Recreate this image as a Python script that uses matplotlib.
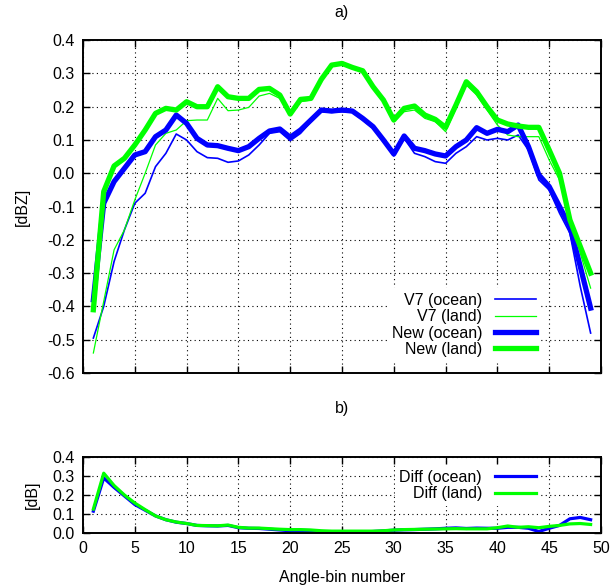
import numpy as np
import matplotlib
matplotlib.use('Agg')
import matplotlib.pyplot as plt
from matplotlib.ticker import FuncFormatter

plt.rcParams['font.family'] = ['Liberation Sans', 'DejaVu Sans']
plt.rcParams['axes.unicode_minus'] = False
plt.rcParams['font.size'] = 11.5

# angle bins 1..49
bins = np.arange(1, 50)

v7_ocean = [-0.495, -0.40, -0.265, -0.17, -0.09, -0.06, 0.02, 0.06, 0.118, 0.10,
            0.065, 0.047, 0.045, 0.033, 0.037, 0.055, 0.085, 0.12, 0.125, 0.098,
            0.12, 0.155, 0.185, 0.183, 0.185, 0.183, 0.16, 0.135, 0.095, 0.052,
            0.105, 0.06, 0.05, 0.035, 0.03, 0.06, 0.08, 0.11, 0.10, 0.105,
            0.10, 0.115, 0.07, -0.02, -0.05, -0.12, -0.18, -0.34, -0.48]
v7_land = [-0.54, -0.385, -0.23, -0.17, -0.08, 0.0, 0.085, 0.12, 0.13, 0.158,
           0.16, 0.16, 0.225, 0.188, 0.19, 0.198, 0.232, 0.24, 0.225, 0.175,
           0.215, 0.22, 0.28, 0.322, 0.327, 0.315, 0.305, 0.255, 0.215, 0.155,
           0.185, 0.19, 0.165, 0.155, 0.125, 0.195, 0.265, 0.235, 0.19, 0.145,
           0.115, 0.11, 0.11, 0.11, 0.04, -0.02, -0.13, -0.24, -0.345]
new_ocean = [-0.38, -0.09, -0.025, 0.015, 0.055, 0.065, 0.11, 0.13, 0.175, 0.15,
             0.105, 0.085, 0.083, 0.075, 0.068, 0.08, 0.105, 0.127, 0.133, 0.108,
             0.13, 0.16, 0.19, 0.187, 0.19, 0.187, 0.165, 0.14, 0.10, 0.058,
             0.112, 0.075, 0.068, 0.058, 0.052, 0.08, 0.10, 0.137, 0.12, 0.132,
             0.125, 0.145, 0.08, -0.005, -0.04, -0.10, -0.16, -0.28, -0.405]
new_land = [-0.41, -0.055, 0.022, 0.045, 0.085, 0.13, 0.18, 0.195, 0.19, 0.215,
            0.20, 0.20, 0.26, 0.23, 0.225, 0.225, 0.252, 0.255, 0.235, 0.178,
            0.222, 0.225, 0.282, 0.325, 0.33, 0.318, 0.308, 0.26, 0.22, 0.16,
            0.195, 0.202, 0.175, 0.162, 0.138, 0.205, 0.275, 0.245, 0.20, 0.16,
            0.148, 0.142, 0.138, 0.138, 0.07, 0.0, -0.14, -0.22, -0.30]

diff_ocean = [0.115, 0.29, 0.24, 0.195, 0.15, 0.12, 0.09, 0.07, 0.057, 0.05,
              0.04, 0.038, 0.037, 0.04, 0.028, 0.025, 0.024, 0.02, 0.016, 0.012,
              0.014, 0.013, 0.008, 0.006, 0.005, 0.005, 0.005, 0.008, 0.011, 0.015,
              0.017, 0.018, 0.02, 0.022, 0.025, 0.027, 0.024, 0.026, 0.025, 0.025,
              0.03, 0.03, 0.025, 0.008, 0.025, 0.04, 0.075, 0.082, 0.07]
diff_land = [0.126, 0.315, 0.25, 0.20, 0.158, 0.123, 0.09, 0.07, 0.058, 0.05,
             0.04, 0.039, 0.038, 0.042, 0.03, 0.026, 0.026, 0.023, 0.02, 0.018,
             0.018, 0.016, 0.012, 0.01, 0.01, 0.01, 0.01, 0.01, 0.012, 0.016,
             0.018, 0.019, 0.02, 0.021, 0.022, 0.023, 0.022, 0.022, 0.022, 0.028,
             0.037, 0.03, 0.033, 0.028, 0.035, 0.04, 0.048, 0.05, 0.045]

BLUE = '#0000ff'
GREEN = '#00ff00'


def one_decimal(v, pos):
    # avoid "-0.0" on the zero tick
    return f'{round(v, 1) + 0.0:.1f}'


def style_axes(ax, ylim, yticks):
    ax.set_xlim(0, 50)
    ax.set_ylim(*ylim)
    ax.set_xticks(np.arange(0, 51, 5))
    ax.set_yticks(yticks)
    ax.yaxis.set_major_formatter(FuncFormatter(one_decimal))
    ax.tick_params(direction='in', top=True, right=True, length=5, width=1,
                   labelsize=11.5, pad=6)
    ax.grid(True, color='black', linestyle=(0, (1, 3)), linewidth=0.8)
    for s in ax.spines.values():
        s.set_linewidth(1.4)


def add_key(ax, anchor):
    # opaque key, text to the left of the line sample
    return ax.legend(loc='lower right', bbox_to_anchor=anchor, markerfirst=False,
                     frameon=True, fancybox=False, framealpha=1, edgecolor='none',
                     handlelength=2.6, handletextpad=0.8, labelspacing=0.08,
                     borderpad=0.3, fontsize=11.5)


fig = plt.figure(figsize=(6.13, 5.86), dpi=100)

# a) absolute bias per angle bin
ax1 = fig.add_axes([0.1354, 0.3635, 0.845, 0.568])
ax1.plot(bins, v7_ocean, color=BLUE, lw=1.2, label='V7 (ocean)')
ax1.plot(bins, v7_land, color=GREEN, lw=0.9, label='V7 (land)')
ax1.plot(bins, new_ocean, color=BLUE, lw=3.8, label='New (ocean)')
ax1.plot(bins, new_land, color=GREEN, lw=3.8, label='New (land)')
style_axes(ax1, (-0.6, 0.4), np.arange(-0.6, 0.41, 0.1))
ax1.tick_params(labelbottom=False)
ax1.set_ylabel('[dBZ]', labelpad=12)
ax1.set_title('a)', fontsize=11.5, pad=17)
add_key(ax1, (0.9, 0.01))

# b) difference New - V7
ax2 = fig.add_axes([0.1354, 0.0904, 0.845, 0.1297])
ax2.plot(bins, diff_ocean, color=BLUE, lw=2.3, label='Diff (ocean)')
ax2.plot(bins, diff_land, color=GREEN, lw=2.3, label='Diff (land)')
style_axes(ax2, (0, 0.4), np.arange(0, 0.41, 0.1))
ax2.set_ylabel('[dB]', labelpad=9)
ax2.set_xlabel('Angle-bin number', labelpad=10)
ax2.set_title('b)', fontsize=11.5, pad=32)
add_key(ax2, (0.9, 0.25))

fig.savefig('out.png', dpi=100)
